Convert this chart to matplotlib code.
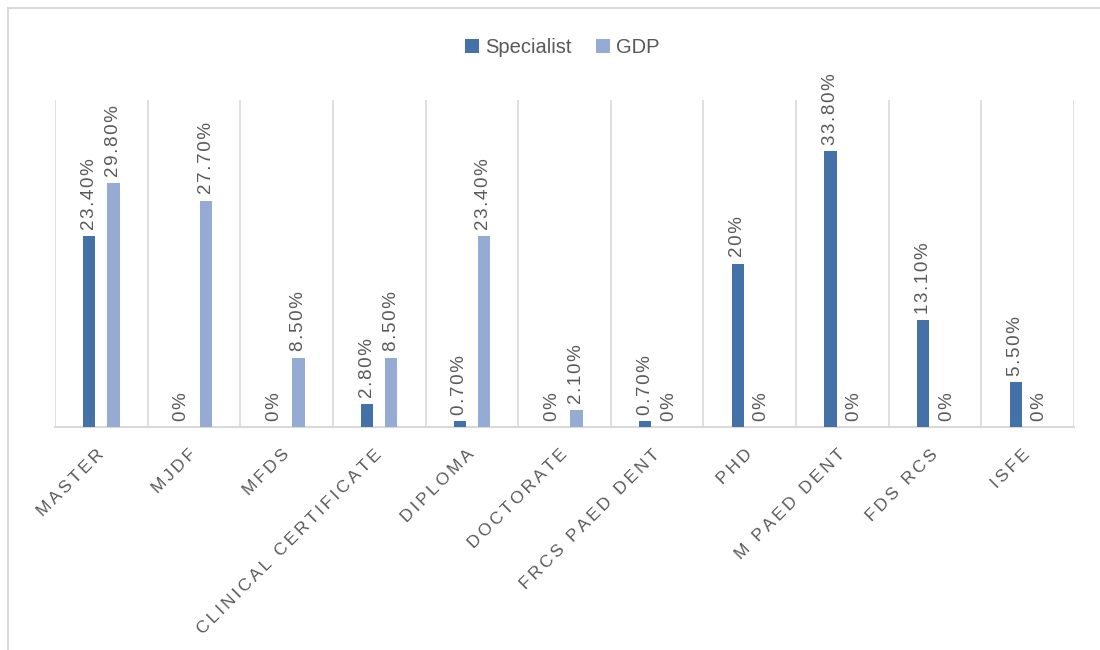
import matplotlib
matplotlib.use('Agg')
import matplotlib.pyplot as plt
import numpy as np

## the data
categories = ['MASTER', 'MJDF', 'MFDS', 'CLINICAL CERTIFICATE', 'DIPLOMA',
              'DOCTORATE', 'FRCS PAED DENT', 'PHD', 'M PAED DENT', 'FDS RCS', 'ISFE']
specialist = [23.4, 0, 0, 2.8, 0.7, 0, 0.7, 20, 33.8, 13.1, 5.5]
gdp = [29.8, 27.7, 8.5, 8.5, 23.4, 2.1, 0, 0, 0, 0, 0]
spec_labels = ['23.40%', '0%', '0%', '2.80%', '0.70%', '0%', '0.70%', '20%', '33.80%', '13.10%', '5.50%']
gdp_labels = ['29.80%', '27.70%', '8.50%', '8.50%', '23.40%', '2.10%', '0%', '0%', '0%', '0%', '0%']

c_spec = '#4472A8'
c_gdp = '#95ABD3'
grey = '#595959'
grid = '#D9D9D9'

plt.rcParams['font.family'] = ['Liberation Sans', 'DejaVu Sans']

fig = plt.figure(figsize=(11, 6.5), dpi=100)
ax = fig.add_axes([0.05, 0.343, 0.9264, 0.503])

x = np.arange(len(categories))
w = 0.133
off = 0.13
b1 = ax.bar(x - off, specialist, w, color=c_spec, label='Specialist', zorder=3)
b2 = ax.bar(x + off, gdp, w, color=c_gdp, label='GDP', zorder=3)

## rotated data labels, slightly letter-spaced
for bars, labs in ((b1, spec_labels), (b2, gdp_labels)):
    for rect, lab in zip(bars, labs):
        ax.annotate('\u200a'.join(lab), (rect.get_x() + rect.get_width() / 2, rect.get_height()),
                    xytext=(0, 4.5), textcoords='offset points', rotation=90,
                    ha='center', va='bottom', fontsize=13.5, color=grey)

ax.set_xlim(-0.5, len(categories) - 0.5)
ax.set_ylim(0, 40)
ax.set_yticks([])

## vertical separators between categories
for b in np.arange(-0.5, len(categories), 1.0):
    ax.axvline(b, color=grid, lw=1.2, zorder=1)

for s in ['top', 'right', 'left']:
    ax.spines[s].set_visible(False)
ax.spines['bottom'].set_color(grid)
ax.spines['bottom'].set_linewidth(1.5)

spaced = ['\u200a\u200a'.join(c) for c in categories]
ax.set_xticks(x)
ax.set_xticklabels(spaced, rotation=45, ha='right', va='center',
                   rotation_mode='anchor', fontsize=12.5, color=grey)
ax.tick_params(axis='x', length=0, pad=18)

leg = ax.legend(loc='lower center', bbox_to_anchor=(0.498, 1.075), ncol=2, frameon=False,
                fontsize=14.5, handlelength=0.7, handleheight=0.7, columnspacing=1.2,
                handletextpad=0.3)
for t in leg.get_texts():
    t.set_color(grey)

## chart border (left and top only visible)
fig.add_artist(plt.Line2D([0.0075, 0.0075], [0, 0.988], color=grid, lw=1.5))
fig.add_artist(plt.Line2D([0.0075, 1.0], [0.988, 0.988], color=grid, lw=1.5))

plt.savefig('out.png', dpi=100)
